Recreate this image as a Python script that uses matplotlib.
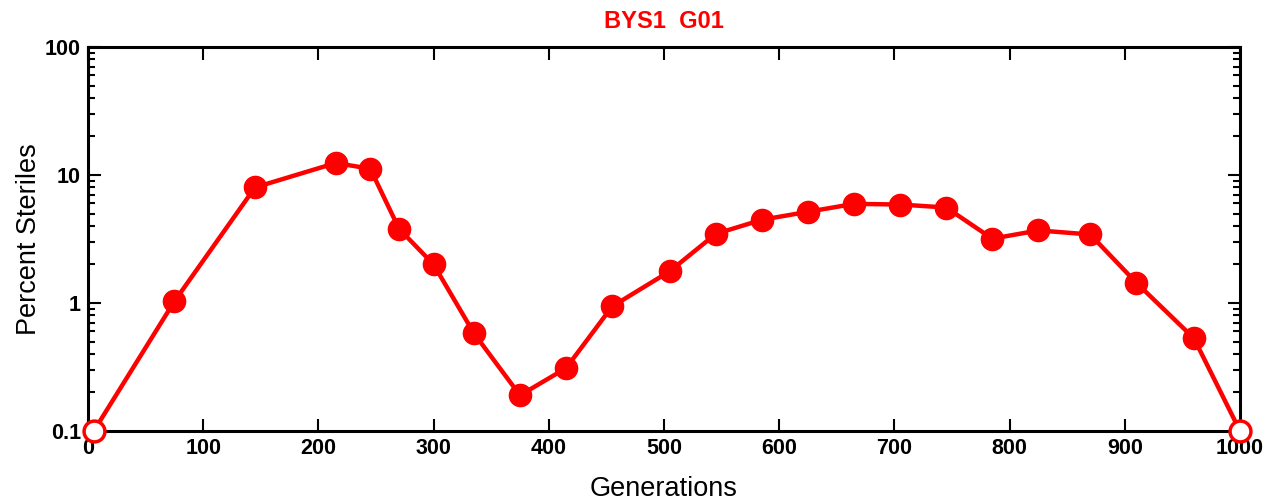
import numpy as np
import matplotlib.pyplot as plt
from matplotlib.ticker import LogLocator, FixedLocator, FuncFormatter, NullFormatter

plt.rcParams['font.family'] = ['Liberation Sans', 'DejaVu Sans']

# generations sampled and percent steriles (zero counts sit on the 0.1 floor)
generations = [5, 75, 145, 215, 245, 270, 300, 335, 375, 415, 455, 505,
               545, 585, 625, 665, 705, 745, 785, 825, 870, 910, 960, 1000]
pct_steriles = [0.1, 1.03, 8.0, 12.4, 11.2, 3.8, 2.0, 0.58, 0.19, 0.31, 0.94, 1.77,
                3.47, 4.47, 5.16, 5.95, 5.88, 5.57, 3.18, 3.69, 3.43, 1.44, 0.53, 0.1]
is_zero = [True] + [False] * 22 + [True]

x_ticks = [0, 100, 200, 300, 400, 500, 600, 700, 800, 900, 1000]
y_ticks = [0.1, 1, 10, 100]
y_tick_labels = ['0.1', '1', '10', '100']

fig = plt.figure(figsize=(12.64, 5.0), dpi=100)
ax = fig.add_axes([88 / 1264, 1 - 431 / 500, (1240 - 88) / 1264, (431 - 47) / 500])

red = '#ff0000'
ax.plot(generations, pct_steriles, color=red, lw=3.2, zorder=3, clip_on=False)

x = np.array(generations)
y = np.array(pct_steriles)
z = np.array(is_zero)
ax.plot(x[~z], y[~z], 'o', color=red, ms=16, zorder=4, clip_on=False)
ax.plot(x[z], y[z], 'o', mfc='white', mec=red, mew=2.5, ms=15, zorder=4, clip_on=False)

ax.set_yscale('log')
ax.set_xlim(0, 1000)
ax.set_ylim(0.1, 100)

ax.xaxis.set_major_locator(FixedLocator(x_ticks))
ax.yaxis.set_major_locator(FixedLocator(y_ticks))
ax.yaxis.set_major_formatter(FuncFormatter(lambda v, p: y_tick_labels[y_ticks.index(v)] if v in y_ticks else ''))
ax.yaxis.set_minor_locator(LogLocator(base=10, subs=np.arange(2, 10)))
ax.yaxis.set_minor_formatter(NullFormatter())

for s in ax.spines.values():
    s.set_linewidth(2.2)

ax.tick_params(axis='both', which='major', direction='in', length=9, width=1.5,
               top=True, right=True, labelsize=15.5, pad=5)
ax.tick_params(axis='y', which='minor', direction='in', length=5, width=1.5, right=True)
for lbl in ax.get_xticklabels() + ax.get_yticklabels():
    lbl.set_fontweight('bold')

ax.set_xlabel('Generations', fontsize=19.5, labelpad=12)
ax.set_ylabel('Percent Steriles', fontsize=19.5, labelpad=2)
ax.set_title('BYS1  G01', color=red, fontsize=17, fontweight='bold', pad=14)

fig.savefig('out.png', dpi=100)
